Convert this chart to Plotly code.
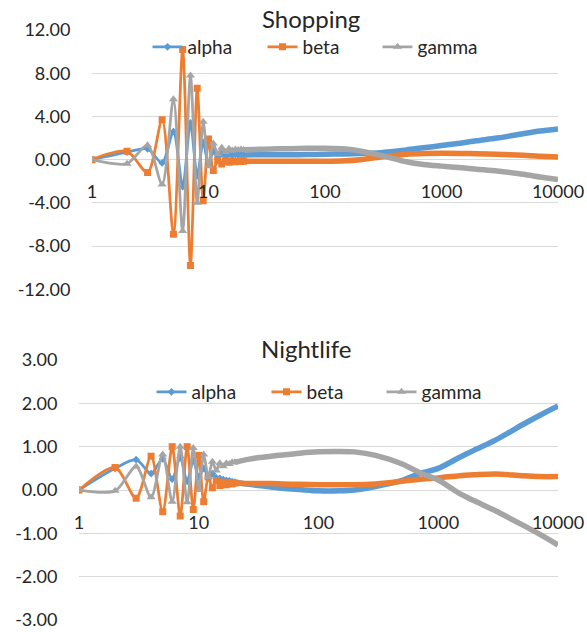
import plotly.graph_objects as go

# ---------------- data ----------------
X_VALUES = [1, 2, 3, 4, 5, 6, 7, 8, 9, 10, 11, 12, 13, 14, 15, 16, 17, 18, 19, 20,
            25, 30, 40, 50, 70, 100, 150, 200, 300, 500, 700, 1000, 1500, 2000, 3000, 5000, 7000, 10000]

SHOP_ALPHA = [0, 0.7, 1.0, -0.3, 2.6, -2.5, 3.4, -1.5, 1.6, -0.4, 0.8, 0.2, 0.55, 0.35, 0.5, 0.4, 0.48, 0.42, 0.46, 0.44,
              0.45, 0.45, 0.45, 0.46, 0.47, 0.5, 0.53, 0.57, 0.65, 0.9, 1.1, 1.3, 1.55, 1.75, 2.0, 2.4, 2.65, 2.84]
SHOP_BETA = [0, 0.77, -1.2, 3.7, -6.9, 10.2, -9.8, 6.6, -3.8, 1.9, -1.0, -0.1, -0.4, -0.1, -0.25, -0.15, -0.2, -0.15, -0.18, -0.15,
             -0.15, -0.15, -0.15, -0.15, -0.15, -0.15, -0.1, 0.0, 0.25, 0.5, 0.57, 0.6, 0.58, 0.55, 0.5, 0.4, 0.32, 0.25]
SHOP_GAMMA = [0, -0.37, 1.33, -2.3, 5.6, -6.6, 7.8, -4.0, 3.5, -0.6, 1.5, 0.5, 1.1, 0.7, 1.0, 0.85, 0.95, 0.9, 0.95, 0.92,
              0.95, 0.97, 1.0, 1.02, 1.05, 1.05, 0.98, 0.8, 0.4, -0.2, -0.45, -0.6, -0.75, -0.88, -1.05, -1.35, -1.6, -1.85]

NIGHT_ALPHA = [0, 0.5, 0.7, 0.38, 0.72, 0.25, 0.75, 0.2, 0.68, 0.3, 0.5, 0.32, 0.38, 0.28, 0.27, 0.24, 0.22, 0.21, 0.19, 0.18,
               0.14, 0.11, 0.07, 0.04, 0.01, -0.02, -0.02, 0.0, 0.08, 0.22, 0.38, 0.5, 0.75, 0.92, 1.15, 1.5, 1.72, 1.94]
NIGHT_BETA = [0, 0.52, -0.19, 0.78, -0.5, 1.0, -0.6, 1.0, -0.45, 0.8, -0.27, 0.3, 0.05, 0.22, 0.1, 0.18, 0.12, 0.17, 0.14, 0.16,
              0.15, 0.15, 0.15, 0.14, 0.13, 0.12, 0.12, 0.12, 0.14, 0.2, 0.25, 0.28, 0.33, 0.35, 0.37, 0.33, 0.31, 0.31]
NIGHT_GAMMA = [0, -0.02, 0.54, -0.17, 0.82, -0.27, 1.0, -0.28, 0.97, 0.0, 0.82, 0.3, 0.65, 0.45, 0.62, 0.55, 0.62, 0.6, 0.64, 0.64,
               0.7, 0.74, 0.78, 0.81, 0.85, 0.88, 0.89, 0.88, 0.8, 0.6, 0.4, 0.23, -0.08, -0.25, -0.48, -0.8, -1.02, -1.27]

SERIES_NAMES = ["alpha", "beta", "gamma"]
X_TICKS = [1, 10, 100, 1000, 10000]
X_TICK_TEXT = ["1", "10", "100", "1000", "10000"]
SHOP_Y_TICKS = [-12, -8, -4, 0, 4, 8, 12]
SHOP_Y_TEXT = ["-12.00", "-8.00", "-4.00", "0.00", "4.00", "8.00", "12.00"]
NIGHT_Y_TICKS = [-3, -2, -1, 0, 1, 2, 3]
NIGHT_Y_TEXT = ["-3.00", "-2.00", "-1.00", "0.00", "1.00", "2.00", "3.00"]

# ---------------- style ----------------
W, H = 587, 632
COLORS = ["#5B9BD5", "#ED7D31", "#A5A5A5"]
SYMBOLS = ["diamond", "square", "triangle-up"]
MSIZE = [6, 7, 8]
FONT = "Lato, 'Open Sans', sans-serif"
TXT = "#262626"
GRID = "#D9D9D9"
HEAD_N = 20  # discrete-marker part


def px(xw):
    return xw / W


def py(yw):
    return 1 - yw / H


fig = go.Figure()


def add_series(xa, ya, legend, ys):
    for i, (name, y) in enumerate(zip(SERIES_NAMES, ys)):
        fig.add_trace(go.Scatter(
            x=X_VALUES[:HEAD_N], y=y[:HEAD_N], name=name, mode="lines+markers",
            xaxis=xa, yaxis=ya, legend=legend,
            line=dict(color=COLORS[i], width=2.75, shape="spline", smoothing=0.8),
            marker=dict(symbol=SYMBOLS[i], size=MSIZE[i], color=COLORS[i]),
        ))
        fig.add_trace(go.Scatter(
            x=X_VALUES[HEAD_N - 1:], y=y[HEAD_N - 1:], name=name, mode="lines",
            xaxis=xa, yaxis=ya, showlegend=False,
            line=dict(color=COLORS[i], width=5.5, shape="spline", smoothing=0.8),
        ))


add_series("x", "y", "legend", [SHOP_ALPHA, SHOP_BETA, SHOP_GAMMA])
add_series("x2", "y2", "legend2", [NIGHT_ALPHA, NIGHT_BETA, NIGHT_GAMMA])

top_dom = [py(289.3), py(30)]
bot_dom = [py(620), py(360)]

common_x = dict(type="log", range=[0, 4], tickvals=X_TICKS, ticktext=X_TICK_TEXT,
                showgrid=False, showline=False, zeroline=False, anchor="free", automargin=False,
                ticks="outside", ticklen=16, tickcolor="rgba(0,0,0,0)",
                tickfont=dict(family=FONT, size=18, color=TXT))
common_y = dict(showgrid=True, gridcolor=GRID, gridwidth=1, zeroline=False, showline=False, automargin=False,
                ticks="outside", ticklen=17, tickcolor="rgba(0,0,0,0)",
                tickfont=dict(family=FONT, size=18, color=TXT))

legend_common = dict(orientation="h", xanchor="center", yanchor="middle", entrywidth=70,
                     font=dict(family=FONT, size=19, color=TXT), bgcolor="rgba(0,0,0,0)")

fig.update_layout(
    width=W, height=H, margin=dict(l=0, r=0, t=0, b=0, autoexpand=False),
    paper_bgcolor="white", plot_bgcolor="white",
    font=dict(family=FONT, color=TXT),
    xaxis=dict(common_x, domain=[px(92), px(558)], position=sum(top_dom) / 2),
    yaxis=dict(common_y, domain=top_dom, range=[-12, 12], tickvals=SHOP_Y_TICKS, ticktext=SHOP_Y_TEXT, anchor="x"),
    xaxis2=dict(common_x, domain=[px(79), px(558)], position=sum(bot_dom) / 2),
    yaxis2=dict(common_y, domain=bot_dom, range=[-3, 3], tickvals=NIGHT_Y_TICKS, ticktext=NIGHT_Y_TEXT, anchor="x2"),
    legend=dict(legend_common, x=px(320), y=py(47)),
    legend2=dict(legend_common, x=px(324), y=py(392)),
    showlegend=True,
    annotations=[
        dict(text="Shopping", x=px(311), y=py(18), xref="paper", yref="paper", showarrow=False,
             xanchor="center", yanchor="middle", font=dict(family=FONT, size=24, color=TXT)),
        dict(text="Nightlife", x=px(306), y=py(348), xref="paper", yref="paper", showarrow=False,
             xanchor="center", yanchor="middle", font=dict(family=FONT, size=24, color=TXT)),
    ],
)

fig.write_html("out.html", config={"displayModeBar": False},
               post_script="document.body.style.margin='0';document.body.style.overflow='hidden';")
